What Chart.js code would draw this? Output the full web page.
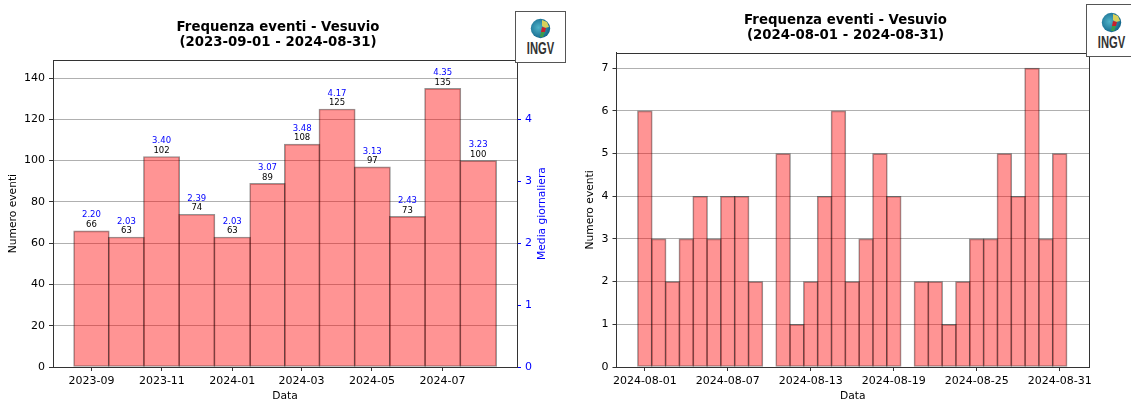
<!DOCTYPE html>
<html>
<head>
<meta charset="utf-8">
<title>Frequenza eventi - Vesuvio</title>
<script src="https://cdn.jsdelivr.net/npm/chart.js@4"></script>
<style>
    html, body { margin: 0; padding: 0; background: #fff; width: 1131px; height: 401px; overflow: hidden; }
    canvas { position: absolute; top: 0; }
    #c1 { left: 0; }
    #c2 { left: 570px; }
    .logo { position: absolute; box-sizing: border-box; background: #fff; border: 1px solid #555; text-align: center; z-index: 2; }
    .logo svg { position: absolute; }
    .logo span { position: absolute; left: 0; right: 0; font: bold 16px "Liberation Sans", sans-serif; color: #333; line-height: 16px; transform: scaleX(0.7); }
    #logo1 { left: 515px; top: 11px; width: 51px; height: 52px; }
    #logo2 { left: 1086px; top: 4px; width: 51px; height: 53px; }
</style>
</head>
<body>
<canvas id="c1" width="556" height="401"></canvas>
<canvas id="c2" width="551" height="401"></canvas>

<div class="logo" id="logo1">
    <svg style="left:14px;top:6px" width="21" height="21" viewBox="0 0 21 21">
        <defs><radialGradient id="g1" cx="40%" cy="45%" r="65%"><stop offset="0" stop-color="#4fb3c8"/><stop offset="1" stop-color="#0d5f86"/></radialGradient></defs>
        <circle cx="10.5" cy="10.5" r="9.7" fill="url(#g1)"/>
        <path d="M12 2 L17 4 L19 9 L15 10 L12 8 Z" fill="#d8d05a"/>
        <path d="M12 9 L16 10 L15 14 L11 14 Z" fill="#c8202c"/>
        <path d="M11 14 L15 14 L13 19 L10 19 Z" fill="#3d9b4a"/>
    </svg>
    <span style="top:29px">INGV</span>
</div>
<div class="logo" id="logo2">
    <svg style="left:14px;top:7px" width="21" height="21" viewBox="0 0 21 21">
        <defs><radialGradient id="g2" cx="40%" cy="45%" r="65%"><stop offset="0" stop-color="#4fb3c8"/><stop offset="1" stop-color="#0d5f86"/></radialGradient></defs>
        <circle cx="10.5" cy="10.5" r="9.7" fill="url(#g2)"/>
        <path d="M12 2 L17 4 L19 9 L15 10 L12 8 Z" fill="#d8d05a"/>
        <path d="M12 9 L16 10 L15 14 L11 14 Z" fill="#c8202c"/>
        <path d="M11 14 L15 14 L13 19 L10 19 Z" fill="#3d9b4a"/>
    </svg>
    <span style="top:30px">INGV</span>
</div>

<script>
"use strict"

// grafico mensile
const months = ["2023-09-01", "2023-10-01", "2023-11-01", "2023-12-01", "2024-01-01", "2024-02-01",
    "2024-03-01", "2024-04-01", "2024-05-01", "2024-06-01", "2024-07-01", "2024-08-01"];
const monthEvents = [66, 63, 102, 74, 63, 89, 108, 125, 97, 73, 135, 100];
const monthMeans = ["2.20", "2.03", "3.40", "2.39", "2.03", "3.07", "3.48", "4.17", "3.13", "2.43", "4.35", "3.23"];
const monthTicks = ["2023-09", "2023-11", "2024-01", "2024-03", "2024-05", "2024-07"];

// grafico giornaliero
const days = ["2024-08-01", "2024-08-02", "2024-08-03", "2024-08-04", "2024-08-05", "2024-08-06", "2024-08-07",
    "2024-08-08", "2024-08-09", "2024-08-10", "2024-08-11", "2024-08-12", "2024-08-13", "2024-08-14",
    "2024-08-15", "2024-08-16", "2024-08-17", "2024-08-18", "2024-08-19", "2024-08-20", "2024-08-21",
    "2024-08-22", "2024-08-23", "2024-08-24", "2024-08-25", "2024-08-26", "2024-08-27", "2024-08-28",
    "2024-08-29", "2024-08-30", "2024-08-31"];
const dayEvents = [6, 3, 2, 3, 4, 3, 4, 4, 2, 0, 5, 1, 2, 4, 6, 2, 3, 5, 4, 0, 2, 2, 1, 2, 3, 3, 5, 4, 7, 3, 5];
const dayTicks = ["2024-08-01", "2024-08-07", "2024-08-13", "2024-08-19", "2024-08-25", "2024-08-31"];

const FONT = "'DejaVu Sans'";
const DARK = "#333";

function toDay(str) {
    return Date.parse(str.length == 7 ? str + "-01" : str) / 86400000;
}

function xAxis(tickLabels, min, max) {
    return {
        type: "linear",
        offset: false,
        min: min,
        max: max,
        afterFit: function (scale) { scale.height = 34; },
        afterBuildTicks: function (scale) {
            scale.ticks = tickLabels.map(function (l) { return { value: toDay(l) }; });
        },
        ticks: {
            autoSkip: false,
            maxRotation: 0,
            padding: 4,
            color: "#000",
            font: { family: FONT, size: 11 },
            callback: function (value) {
                return tickLabels.find(function (l) { return toDay(l) == value; });
            }
        },
        grid: { offset: false, drawOnChartArea: false, tickLength: 4, tickColor: DARK },
        border: { color: DARK },
        title: { display: true, text: "Data", color: "#000", padding: { top: 0, bottom: -1.5 }, font: { family: FONT, size: 10.7 } }
    };
}

function yAxis(max, step, width, titlePad) {
    return {
        min: 0,
        max: max,
        afterFit: function (scale) { scale.width = width; },
        ticks: {
            stepSize: step,
            includeBounds: false,
            padding: 4,
            color: "#000",
            font: { family: FONT, size: 11 }
        },
        grid: { color: "#b0b0b0", tickLength: 4, tickColor: DARK },
        border: { color: DARK },
        title: { display: true, text: "Numero eventi", color: "#000", padding: { top: titlePad, bottom: 0 }, font: { family: FONT, size: 10.7 } }
    };
}

function chartTitle(period, padTop, padBottom) {
    return {
        display: true,
        text: ["Frequenza eventi - Vesuvio", period],
        color: "#000",
        font: { family: FONT, size: 13.3, weight: "bold", lineHeight: 1.11 },
        padding: { top: padTop, bottom: padBottom }
    };
}

// cornice completa del riquadro
const framePlugin = {
    id: "frame",
    afterDatasetsDraw: function (chart) {
        let a = chart.chartArea;
        let ctx = chart.ctx;
        let top = Math.round(a.top) + 0.5;
        let right = Math.round(a.right) + 0.5;
        ctx.save();
        ctx.strokeStyle = DARK;
        ctx.lineWidth = 1;
        ctx.beginPath();
        ctx.moveTo(a.left, top);
        ctx.lineTo(right, top);
        ctx.lineTo(right, a.bottom);
        ctx.stroke();
        ctx.restore();
    }
};

// etichette sopra le barre e titolo dell'asse destro (dal basso verso l'alto)
const labelsPlugin = {
    id: "monthLabels",
    afterDatasetsDraw: function (chart) {
        let ctx = chart.ctx;
        let bars = chart.getDatasetMeta(0).data;
        ctx.save();
        ctx.textAlign = "center";
        ctx.textBaseline = "middle";
        ctx.font = "8.5px " + FONT;
        bars.forEach(function (bar, i) {
            ctx.fillStyle = "#000";
            ctx.fillText(monthEvents[i], bar.x, bar.y - 6);
            ctx.fillStyle = "#0000ff";
            ctx.fillText(monthMeans[i], bar.x, bar.y - 15.5);
        });
        let a = chart.chartArea;
        ctx.translate(542, (a.top + a.bottom) / 2);
        ctx.rotate(-Math.PI / 2);
        ctx.font = "10.7px " + FONT;
        ctx.fillText("Media giornaliera", 0, 0);
        ctx.restore();
    }
};

window.onload = function () {
    let start1 = toDay(months[0]);
    new Chart(document.getElementById("c1"), {
        type: "bar",
        data: {
            datasets: [{
                data: months.map(function (m, i) { return { x: toDay(m), y: monthEvents[i] }; }),
                backgroundColor: "rgba(255,0,0,0.42)",
                borderColor: "rgba(0,0,0,0.42)",
                borderWidth: 1,
                borderSkipped: false,
                barThickness: "flex",
                barPercentage: 1,
                categoryPercentage: 1.03
            }]
        },
        options: {
            responsive: false,
            animation: false,
            layout: { padding: 0 },
            plugins: {
                legend: { display: false },
                tooltip: { enabled: false },
                title: chartTitle("(2023-09-01 - 2024-08-31)", 20, 10.6)
            },
            scales: {
                x: xAxis(monthTicks, start1 - 33.3, start1 + 368.6),
                y: yAxis(148.7, 20, 53, 6.6),
                y1: {
                    position: "right",
                    min: 0,
                    max: 4.95,
                    afterFit: function (scale) { scale.width = 39; },
                    ticks: { stepSize: 1, includeBounds: false, padding: 4, color: "#0000ff", font: { family: FONT, size: 11 } },
                    grid: { drawOnChartArea: false, tickLength: 4, tickColor: "#0000ff" },
                    border: { color: DARK }
                }
            }
        },
        plugins: [framePlugin, labelsPlugin]
    });

    let start2 = toDay(days[0]);
    new Chart(document.getElementById("c2"), {
        type: "bar",
        data: {
            datasets: [{
                data: days.map(function (d, i) { return { x: toDay(d), y: dayEvents[i] }; }),
                backgroundColor: "rgba(255,0,0,0.42)",
                borderColor: "rgba(0,0,0,0.42)",
                borderWidth: 1,
                borderSkipped: false,
                barThickness: "flex",
                barPercentage: 1,
                categoryPercentage: 1.07
            }]
        },
        options: {
            responsive: false,
            animation: false,
            layout: { padding: 0 },
            plugins: {
                legend: { display: false },
                tooltip: { enabled: false },
                title: chartTitle("(2024-08-01 - 2024-08-31)", 13, 10.3)
            },
            scales: {
                x: xAxis(dayTicks, start2 - 2.05, start2 + 32.12),
                y: yAxis(7.36, 1, 46.5, 14),
                // asse vuoto: lascia il margine a destra del riquadro
                pad: {
                    position: "right",
                    min: 0,
                    max: 1,
                    afterFit: function (scale) { scale.width = 32; },
                    ticks: { display: false },
                    grid: { display: false },
                    border: { display: false }
                }
            }
        },
        plugins: [framePlugin]
    });
};
</script>
</body>
</html>
